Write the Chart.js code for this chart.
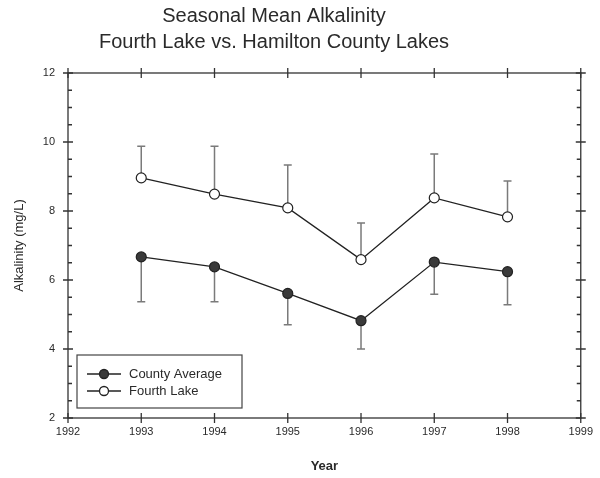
<!DOCTYPE html>
<html>
<head>
<meta charset="utf-8">
<script src="https://cdn.jsdelivr.net/npm/chart.js@4.4.0/dist/chart.umd.min.js"></script>
<style>
  html, body { margin: 0; padding: 0; background: #fff; }
  #wrap { width: 600px; height: 478px; position: relative; }
</style>
</head>
<body>
<div id="wrap"><canvas id="alkChart" width="600" height="478"></canvas></div>
<script>
const titleLines = ["Seasonal Mean Alkalinity", "Fourth Lake vs. Hamilton County Lakes"];
const years = [1993, 1994, 1995, 1996, 1997, 1998];
const countyAvg = [6.67, 6.38, 5.61, 4.82, 6.52, 6.24];
const countyLow = [5.37, 5.37, 4.70, 4.00, 5.59, 5.28];
const fourthLake = [8.96, 8.49, 8.09, 6.59, 8.38, 7.83];
const fourthHigh = [9.88, 9.88, 9.33, 7.65, 9.65, 8.87];
const seriesNames = ["County Average", "Fourth Lake"];

const FONT = "Arial, 'Liberation Sans', sans-serif";

// error bars: county goes down, fourth lake goes up
const errorBars = {
    id: "errorBars",
    beforeDatasetsDraw(chart) {
        const ctx = chart.ctx;
        const x = chart.scales.x, y = chart.scales.y;
        const sets = [[countyAvg, countyLow], [fourthLake, fourthHigh]];
        ctx.save();
        ctx.strokeStyle = "#7a7a7a";
        ctx.lineWidth = 1.5;
        sets.forEach(([mid, end]) => {
            years.forEach((yr, i) => {
                const px = x.getPixelForValue(yr);
                const y0 = y.getPixelForValue(mid[i]);
                const y1 = y.getPixelForValue(end[i]);
                ctx.beginPath();
                ctx.moveTo(px, y0);
                ctx.lineTo(px, y1);
                ctx.moveTo(px - 4, y1);
                ctx.lineTo(px + 4, y1);
                ctx.stroke();
            });
        });
        ctx.restore();
    }
};

// box, ticks on all four sides, legend and title
const decorations = {
    id: "decorations",
    afterDraw(chart) {
        const ctx = chart.ctx;
        const a = chart.chartArea;
        const x = chart.scales.x, y = chart.scales.y;
        ctx.save();
        ctx.strokeStyle = "#333";
        ctx.lineWidth = 1.3;
        ctx.strokeRect(a.left, a.top, a.right - a.left, a.bottom - a.top);

        ctx.beginPath();
        for (let v = 1992; v <= 1999; v++) {
            const px = x.getPixelForValue(v);
            ctx.moveTo(px, a.bottom - 5); ctx.lineTo(px, a.bottom + 5);
            ctx.moveTo(px, a.top - 5); ctx.lineTo(px, a.top + 5);
        }
        for (let v = 2; v <= 12; v += 0.5) {
            const py = y.getPixelForValue(v);
            const major = v % 2 === 0;
            if (major) {
                ctx.moveTo(a.left - 5, py); ctx.lineTo(a.left + 5, py);
                ctx.moveTo(a.right - 5, py); ctx.lineTo(a.right + 5, py);
            } else {
                ctx.moveTo(a.left, py); ctx.lineTo(a.left + 4, py);
                ctx.moveTo(a.right - 4, py); ctx.lineTo(a.right, py);
            }
        }
        ctx.stroke();

        // legend
        ctx.lineWidth = 1.2;
        ctx.strokeStyle = "#444";
        ctx.strokeRect(77, 355, 165, 53);
        const fills = ["#3a3a3a", "#ffffff"];
        ctx.font = "13px " + FONT;
        ctx.textBaseline = "middle";
        ctx.textAlign = "left";
        seriesNames.forEach((name, i) => {
            const ly = 374 + i * 17;
            ctx.strokeStyle = "#222";
            ctx.lineWidth = 1.3;
            ctx.beginPath();
            ctx.moveTo(87, ly); ctx.lineTo(121, ly);
            ctx.stroke();
            ctx.beginPath();
            ctx.arc(104, ly, 4.5, 0, Math.PI * 2);
            ctx.fillStyle = fills[i];
            ctx.fill();
            ctx.stroke();
            ctx.fillStyle = "#2a2a2a";
            ctx.fillText(name, 129, ly);
        });

        // title
        ctx.fillStyle = "#2a2a2a";
        ctx.font = "20px " + FONT;
        ctx.textAlign = "center";
        titleLines.forEach((t, i) => ctx.fillText(t, 274, 16 + i * 26));
        ctx.restore();
    }
};

const ctx = document.getElementById("alkChart").getContext("2d");
new Chart(ctx, {
    type: "line",
    data: {
        datasets: [
            {
                label: seriesNames[0],
                data: years.map((yr, i) => ({ x: yr, y: countyAvg[i] })),
                borderColor: "#222",
                borderWidth: 1.3,
                backgroundColor: "#3a3a3a",
                pointBackgroundColor: "#3a3a3a",
                pointBorderColor: "#222",
                pointRadius: 5,
                pointBorderWidth: 1.2,
                tension: 0
            },
            {
                label: seriesNames[1],
                data: years.map((yr, i) => ({ x: yr, y: fourthLake[i] })),
                borderColor: "#222",
                borderWidth: 1.3,
                backgroundColor: "#fff",
                pointBackgroundColor: "#fff",
                pointBorderColor: "#222",
                pointRadius: 5,
                pointBorderWidth: 1.2,
                tension: 0
            }
        ]
    },
    options: {
        responsive: false,
        animation: false,
        layout: { padding: { top: 73, right: 19, left: 0, bottom: 0 } },
        plugins: {
            legend: { display: false },
            tooltip: { enabled: false },
            title: { display: false }
        },
        scales: {
            x: {
                type: "linear",
                min: 1992,
                max: 1999,
                grid: { display: false, drawTicks: false },
                border: { display: false },
                ticks: {
                    stepSize: 1,
                    padding: 7,
                    color: "#2a2a2a",
                    font: { size: 11, family: FONT },
                    maxRotation: 0,
                    callback: v => String(v)
                },
                title: {
                    display: true,
                    text: "Year",
                    color: "#2a2a2a",
                    font: { size: 13, weight: "bold", family: FONT },
                    padding: { top: 0, bottom: 4 }
                },
                afterFit: s => { s.height = 60; }
            },
            y: {
                min: 2,
                max: 12,
                grid: { display: false, drawTicks: false },
                border: { display: false },
                ticks: {
                    stepSize: 2,
                    padding: 13,
                    color: "#2a2a2a",
                    font: { size: 11, family: FONT }
                },
                title: {
                    display: true,
                    text: "Alkalinity (mg/L)",
                    color: "#2a2a2a",
                    font: { size: 13, family: FONT },
                    padding: { top: 12, bottom: 0 }
                },
                afterFit: s => { s.width = 68; }
            }
        }
    },
    plugins: [errorBars, decorations]
});
</script>
</body>
</html>
